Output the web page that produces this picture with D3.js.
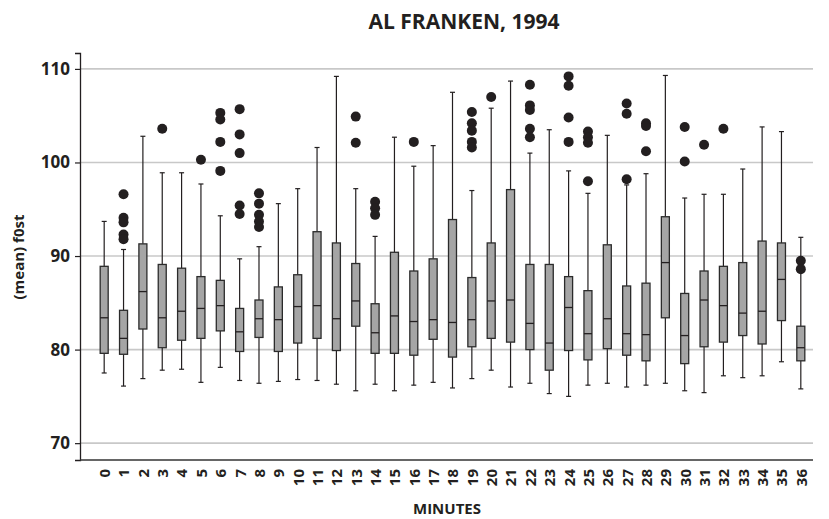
<!DOCTYPE html>
<html>
<head>
<meta charset="utf-8">
<script src="https://cdn.jsdelivr.net/npm/d3@7"></script>
<style>
  body { margin: 0; background: #fff; }
  svg { display: block; font-family: "Open Sans", Lato, sans-serif; }
</style>
</head>
<body>
<svg id="chart" width="829" height="519"></svg>
<script>
// Minute of the speech (one box per minute)
const minutes = d3.range(0, 37);

// Box-plot statistics of mean f0 (semitones) per minute
const whiskerLow = [77.5, 76.1, 76.9, 77.8, 77.9, 76.5, 78.1, 76.7, 76.4, 76.6,
                    76.8, 76.7, 76.3, 75.6, 76.3, 75.6, 76.2, 76.5, 75.9, 76.9,
                    77.8, 76.0, 76.4, 75.3, 75.0, 76.2, 76.4, 76.0, 76.2, 76.4,
                    75.6, 75.4, 77.2, 77.0, 77.2, 78.7, 75.8];
const q1 =         [79.6, 79.5, 82.2, 80.2, 81.0, 81.2, 82.0, 79.8, 81.3, 79.8,
                    80.7, 81.2, 79.9, 82.5, 79.6, 79.6, 79.4, 81.1, 79.2, 80.3,
                    81.2, 80.8, 80.0, 77.8, 79.9, 78.9, 80.1, 79.4, 78.8, 83.4,
                    78.5, 80.3, 80.8, 81.5, 80.6, 83.1, 78.8];
const median =     [83.4, 81.2, 86.2, 83.4, 84.1, 84.4, 84.7, 81.9, 83.3, 83.2,
                    84.6, 84.7, 83.3, 85.2, 81.8, 83.6, 83.0, 83.2, 82.9, 83.2,
                    85.2, 85.3, 82.8, 80.7, 84.5, 81.7, 83.3, 81.7, 81.6, 89.3,
                    81.5, 85.3, 84.7, 83.9, 84.1, 87.5, 80.2];
const q3 =         [88.9, 84.2, 91.3, 89.1, 88.7, 87.8, 87.4, 84.4, 85.3, 86.7,
                    88.0, 92.6, 91.4, 89.2, 84.9, 90.4, 88.4, 89.7, 93.9, 87.7,
                    91.4, 97.1, 89.1, 89.1, 87.8, 86.3, 91.2, 86.8, 87.1, 94.2,
                    86.0, 88.4, 88.9, 89.3, 91.6, 91.4, 82.5];
const whiskerHigh = [93.7, 90.7, 102.8, 98.9, 98.9, 97.7, 94.3, 89.7, 91.0, 95.6,
                     97.2, 101.6, 109.2, 97.2, 92.1, 102.7, 99.6, 101.8, 107.5, 97.0,
                     105.8, 108.7, 101.0, 103.5, 99.1, 96.7, 102.9, 97.6, 98.8, 109.3,
                     96.2, 96.6, 96.6, 99.3, 103.8, 103.3, 92.0];

// Outlying values, keyed by minute
const outliers = [
  [1, 96.6], [1, 94.1], [1, 93.6], [1, 92.3], [1, 91.8],
  [3, 103.6],
  [5, 100.3],
  [6, 105.3], [6, 104.6], [6, 102.2], [6, 99.1],
  [7, 105.7], [7, 103.0], [7, 101.0], [7, 95.4], [7, 94.5],
  [8, 96.7], [8, 95.6], [8, 94.4], [8, 93.7], [8, 93.1],
  [13, 104.9], [13, 102.1],
  [14, 95.8], [14, 95.1], [14, 94.4],
  [16, 102.2],
  [19, 105.4], [19, 104.2], [19, 103.4], [19, 102.2], [19, 101.6],
  [20, 107.0],
  [22, 108.3], [22, 106.1], [22, 105.6], [22, 103.6], [22, 102.7],
  [24, 109.2], [24, 108.2], [24, 104.8], [24, 102.2],
  [25, 103.3], [25, 102.7], [25, 102.1], [25, 98.0],
  [27, 106.3], [27, 105.2], [27, 98.2],
  [28, 104.2], [28, 103.9], [28, 101.2],
  [30, 103.8], [30, 100.1],
  [31, 101.9],
  [32, 103.6],
  [36, 89.5], [36, 88.6]
];

const yTicks = [70, 80, 90, 100, 110];

const title = "AL FRANKEN, 1994";
const xTitle = "MINUTES";
const yTitle = "(mean) f0st";

// ---- layout ----
const svg = d3.select("#chart");
const plotLeft = 80, plotRight = 813, plotTop = 53, plotBottom = 460;

const x = d3.scalePoint()
  .domain(minutes)
  .range([plotLeft, 825])
  .padding(1.25);

const y = d3.scaleLinear()
  .domain([68.2, 111.7])
  .range([plotBottom, plotTop]);

// horizontal gridlines
svg.append("g")
  .selectAll("line")
  .data(yTicks)
  .join("line")
  .attr("x1", plotLeft).attr("x2", plotRight)
  .attr("y1", d => y(d)).attr("y2", d => y(d))
  .attr("stroke", "#c8c8c8")
  .attr("stroke-width", 1.6);

// y axis
const yAxis = svg.append("g")
  .attr("transform", `translate(${plotLeft},0)`)
  .call(d3.axisLeft(y).tickValues(yTicks).tickSize(5).tickPadding(5));
yAxis.select(".domain").attr("stroke", "#231f20").attr("stroke-width", 1.3);
yAxis.selectAll(".tick line").attr("stroke", "#231f20").attr("stroke-width", 1.2);
yAxis.selectAll(".tick text")
  .attr("fill", "#231f20")
  .style("font-size", "17px")
  .style("font-weight", "bold")
  .style("font-family", "'Open Sans', sans-serif");

// x axis (no tick marks, vertical labels)
const xAxis = svg.append("g")
  .attr("transform", `translate(0,${plotBottom})`)
  .call(d3.axisBottom(x).tickSize(0).tickPadding(0));
xAxis.select(".domain")
  .attr("d", `M${plotLeft},0H${plotRight}`)
  .attr("stroke", "#333")
  .attr("stroke-width", 1.3);
xAxis.selectAll(".tick text")
  .attr("fill", "#231f20")
  .attr("transform", "rotate(-90)")
  .attr("text-anchor", "end")
  .attr("x", -9)
  .attr("y", 0)
  .attr("dy", "0.36em")
  .style("font-size", "15px")
  .style("font-weight", "bold")
  .style("font-family", "'Open Sans', sans-serif");

// boxes
const boxW = 8, capW = 5;
const boxes = svg.append("g")
  .selectAll("g")
  .data(minutes)
  .join("g")
  .attr("transform", d => `translate(${x(d)},0)`);

boxes.append("line")
  .attr("x1", 0).attr("x2", 0)
  .attr("y1", d => y(whiskerHigh[d])).attr("y2", d => y(q3[d]))
  .attr("stroke", "#231f20").attr("stroke-width", 1.2);
boxes.append("line")
  .attr("x1", 0).attr("x2", 0)
  .attr("y1", d => y(q1[d])).attr("y2", d => y(whiskerLow[d]))
  .attr("stroke", "#231f20").attr("stroke-width", 1.2);
boxes.append("line")
  .attr("x1", -capW / 2).attr("x2", capW / 2)
  .attr("y1", d => y(whiskerHigh[d])).attr("y2", d => y(whiskerHigh[d]))
  .attr("stroke", "#231f20").attr("stroke-width", 1.2);
boxes.append("line")
  .attr("x1", -capW / 2).attr("x2", capW / 2)
  .attr("y1", d => y(whiskerLow[d])).attr("y2", d => y(whiskerLow[d]))
  .attr("stroke", "#231f20").attr("stroke-width", 1.2);
boxes.append("rect")
  .attr("x", -boxW / 2).attr("width", boxW)
  .attr("y", d => y(q3[d]))
  .attr("height", d => y(q1[d]) - y(q3[d]))
  .attr("fill", "#a5a5a5")
  .attr("stroke", "#2b2b2b").attr("stroke-width", 1.3);
boxes.append("line")
  .attr("x1", -boxW / 2).attr("x2", boxW / 2)
  .attr("y1", d => y(median[d])).attr("y2", d => y(median[d]))
  .attr("stroke", "#231f20").attr("stroke-width", 1.3);

// outliers
svg.append("g")
  .selectAll("circle")
  .data(outliers)
  .join("circle")
  .attr("cx", d => x(d[0]))
  .attr("cy", d => y(d[1]))
  .attr("r", 5)
  .attr("fill", "#231f20");

// titles
svg.append("text")
  .attr("x", 464).attr("y", 29)
  .attr("text-anchor", "middle")
  .attr("fill", "#231f20")
  .style("font-size", "21px").style("font-weight", "bold")
  .text(title);

svg.append("text")
  .attr("x", 447).attr("y", 514)
  .attr("text-anchor", "middle")
  .attr("fill", "#231f20")
  .style("font-size", "15px").style("font-weight", "bold")
  .text(xTitle);

svg.append("text")
  .attr("transform", "translate(24,257) rotate(-90)")
  .attr("text-anchor", "middle")
  .attr("fill", "#231f20")
  .style("font-size", "15px").style("font-weight", "bold")
  .text(yTitle);
</script>
</body>
</html>
